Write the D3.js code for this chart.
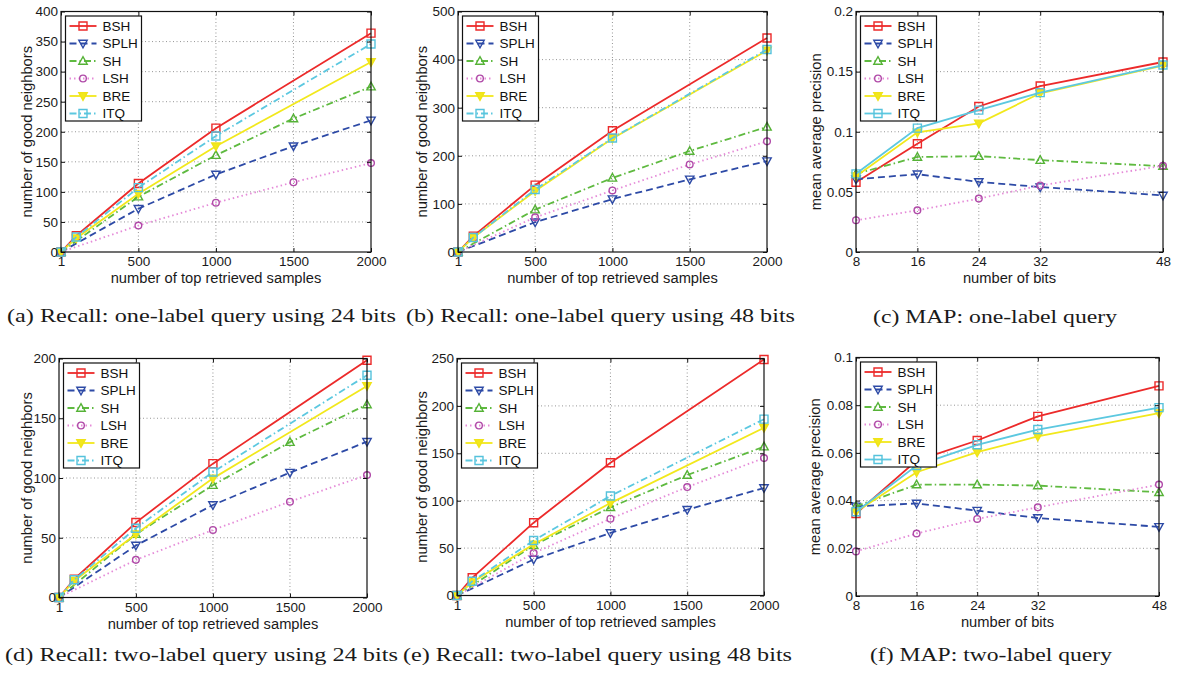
<!DOCTYPE html>
<html><head><meta charset="utf-8">
<script src="https://cdn.jsdelivr.net/npm/d3@7/dist/d3.min.js"></script>
<style>
html,body{margin:0;padding:0;background:#fff;}
svg{display:block;}
</style></head>
<body>
<svg id="fig" width="1177" height="678"></svg>
<script>
// ---------- data ----------
const seriesNames = ["BSH", "SPLH", "SH", "LSH", "BRE", "ITQ"];
const xDense = [1, 100, 500, 1000, 2000];       // BSH, BRE, ITQ points (recall)
const xSparse = [1, 500, 1000, 1500, 2000];     // SPLH, SH, LSH points (recall)
const bits = [8, 16, 24, 32, 48];
const sampleTicks = [1, 500, 1000, 1500, 2000];

// (a) one-label, 24 bits
const a_BSH = [0, 27, 114, 206, 364];
const a_SPLH = [0, 72, 129, 176, 219];
const a_SH = [0, 92, 161, 222, 275];
const a_LSH = [0, 44, 82, 116, 148];
const a_BRE = [0, 23, 97, 176, 316];
const a_ITQ = [0, 25, 107, 193, 346];
const a_yTicks = [0, 50, 100, 150, 200, 250, 300, 350, 400];

// (b) one-label, 48 bits
const b_BSH = [0, 33, 139, 252, 445];
const b_SPLH = [0, 62, 110, 151, 189];
const b_SH = [0, 88, 154, 210, 260];
const b_LSH = [0, 72, 128, 182, 230];
const b_BRE = [0, 30, 127, 236, 419];
const b_ITQ = [0, 30, 130, 237, 421];
const b_yTicks = [0, 100, 200, 300, 400, 500];

// (c) MAP one-label
const c_BSH = [0.058, 0.090, 0.121, 0.138, 0.158];
const c_SPLH = [0.0605, 0.0647, 0.0583, 0.054, 0.047];
const c_SH = [0.065, 0.079, 0.0797, 0.0764, 0.0714];
const c_LSH = [0.0264, 0.0347, 0.0444, 0.0553, 0.0717];
const c_BRE = [0.063, 0.0995, 0.107, 0.132, 0.155];
const c_ITQ = [0.065, 0.103, 0.118, 0.1325, 0.1555];
const c_yTicks = [0, 0.05, 0.1, 0.15, 0.2];

// (d) two-label, 24 bits
const d_BSH = [0, 15.3, 62.7, 112, 198.5];
const d_SPLH = [0, 43.5, 77.4, 104.5, 130.4];
const d_SH = [0, 53, 94, 130, 161.5];
const d_LSH = [0, 31.5, 56.5, 80.2, 102.5];
const d_BRE = [0, 14, 53, 99.7, 177];
const d_ITQ = [0, 14.8, 58, 105, 186];
const d_yTicks = [0, 50, 100, 150, 200];

// (e) two-label, 48 bits
const e_BSH = [0, 18.7, 76.8, 140, 249];
const e_SPLH = [0, 38, 66, 90.5, 113.4];
const e_SH = [0, 53, 93, 127, 157];
const e_LSH = [0, 44.7, 81, 114.4, 145];
const e_BRE = [0, 14, 54, 97.5, 177];
const e_ITQ = [0, 15, 58, 105, 186];
const e_yTicks = [0, 50, 100, 150, 200, 250];

// (f) MAP two-label
const f_BSH = [0.0346, 0.0568, 0.0652, 0.0753, 0.0881];
const f_SPLH = [0.0376, 0.0388, 0.0358, 0.0327, 0.029];
const f_SH = [0.0376, 0.0467, 0.0467, 0.0463, 0.0435];
const f_LSH = [0.0187, 0.0262, 0.0323, 0.0372, 0.0467];
const f_BRE = [0.0353, 0.0519, 0.0603, 0.0669, 0.0767];
const f_ITQ = [0.0353, 0.0547, 0.0634, 0.0698, 0.079];
const f_yTicks = [0, 0.02, 0.04, 0.06, 0.08, 0.1];

const captions = [
  "(a) Recall: one-label query using 24 bits",
  "(b) Recall: one-label query using 48 bits",
  "(c) MAP: one-label query",
  "(d) Recall: two-label query using 24 bits",
  "(e) Recall: two-label query using 48 bits",
  "(f) MAP: two-label query"
];

// ---------- styles ----------
const styles = {
  BSH:  {color: "#ec2a2a", markerColor: "#ec2a2a", dash: null, marker: "square", fill: "none"},
  SPLH: {color: "#2d4aa6", markerColor: "#2d4aa6", dash: "7,4", marker: "down", fill: "none"},
  SH:   {color: "#5fba40", markerColor: "#55b236", dash: "7,3,1.5,3", marker: "up", fill: "none"},
  LSH:  {color: "#e58ad8", markerColor: "#b04aa8", dash: "1.5,3", marker: "circle", fill: "none"},
  BRE:  {color: "#f2e81c", markerColor: "#f0e318", dash: null, marker: "down", fill: "#f2e81c"},
  ITQ:  {color: "#5cc8e0", markerColor: "#55c2dc", dash: "7,3,1.5,3", marker: "square", fill: "none"}
};

const panels = [
  {L: 61, R: 371, T: 11.5, B: 252, yMax: 400, yTicks: a_yTicks, xTicks: sampleTicks, xDom: [1, 2000],
   xTitle: "number of top retrieved samples", yTitle: "number of good neighbors", yTitleOff: 34,
   kind: "recall", data: {BSH: a_BSH, SPLH: a_SPLH, SH: a_SH, LSH: a_LSH, BRE: a_BRE, ITQ: a_ITQ},
   cap: {x: 7, w: 389, y: 322}},
  {L: 458, R: 767, T: 11.5, B: 252, yMax: 500, yTicks: b_yTicks, xTicks: sampleTicks, xDom: [1, 2000],
   xTitle: "number of top retrieved samples", yTitle: "number of good neighbors", yTitleOff: 36,
   kind: "recall", data: {BSH: b_BSH, SPLH: b_SPLH, SH: b_SH, LSH: b_LSH, BRE: b_BRE, ITQ: b_ITQ},
   cap: {x: 406, w: 389, y: 322}},
  {L: 856, R: 1163, T: 11.5, B: 252, yMax: 0.2, yTicks: c_yTicks, xTicks: bits, xDom: [8, 48],
   xTitle: "number of bits", yTitle: "mean average precision", yTitleOff: 40,
   kind: "map", data: {BSH: c_BSH, SPLH: c_SPLH, SH: c_SH, LSH: c_LSH, BRE: c_BRE, ITQ: c_ITQ},
   cap: {x: 873, w: 244, y: 323}},
  {L: 59, R: 367, T: 358.5, B: 597.5, yMax: 200, yTicks: d_yTicks, xTicks: sampleTicks, xDom: [1, 2000],
   xTitle: "number of top retrieved samples", yTitle: "number of good neighbors", yTitleOff: 32,
   kind: "recall", data: {BSH: d_BSH, SPLH: d_SPLH, SH: d_SH, LSH: d_LSH, BRE: d_BRE, ITQ: d_ITQ},
   cap: {x: 5, w: 393, y: 661}},
  {L: 457, R: 764, T: 358.5, B: 595.5, yMax: 250, yTicks: e_yTicks, xTicks: sampleTicks, xDom: [1, 2000],
   xTitle: "number of top retrieved samples", yTitle: "number of good neighbors", yTitleOff: 35,
   kind: "recall", data: {BSH: e_BSH, SPLH: e_SPLH, SH: e_SH, LSH: e_LSH, BRE: e_BRE, ITQ: e_ITQ},
   cap: {x: 403, w: 389, y: 661}},
  {L: 856, R: 1159, T: 357.5, B: 596, yMax: 0.1, yTicks: f_yTicks, xTicks: bits, xDom: [8, 48],
   xTitle: "number of bits", yTitle: "mean average precision", yTitleOff: 41,
   kind: "map", data: {BSH: f_BSH, SPLH: f_SPLH, SH: f_SH, LSH: f_LSH, BRE: f_BRE, ITQ: f_ITQ},
   cap: {x: 870, w: 242, y: 661}}
];

const svg = d3.select("#fig");
const sans = "'Liberation Sans', Arial, Helvetica, sans-serif";
const serif = "'Liberation Serif', 'DejaVu Serif', serif";
const LW = 1.8;

function markerPath(type, size) {
  const s = size / 2;
  if (type === "square") return `M${-s},${-s}H${s}V${s}H${-s}Z`;
  if (type === "down") return `M${-s * 1.05},${-s * 0.8}L${s * 1.05},${-s * 0.8}L0,${s * 1.1}Z`;
  if (type === "up") return `M${-s * 1.05},${s * 0.8}L${s * 1.05},${s * 0.8}L0,${-s * 1.1}Z`;
  return d3.symbol(d3.symbolCircle, size * size * 0.62)();
}

panels.forEach((p, pi) => {
  const g = svg.append("g");
  const x = d3.scaleLinear().domain(p.xDom).range([p.L, p.R]);
  const y = d3.scaleLinear().domain([0, p.yMax]).range([p.B, p.T]);
  const fmt = v => (v === 0 ? "0" : d3.format("~g")(v));

  // grid
  const grid = g.append("g").attr("stroke", "#8a8a8a").attr("stroke-width", 0.9).attr("stroke-dasharray", "1,2.5");
  p.xTicks.filter(v => v !== p.xDom[0] && v !== p.xDom[1]).forEach(v => {
    grid.append("line").attr("x1", x(v)).attr("x2", x(v)).attr("y1", p.T).attr("y2", p.B);
  });
  p.yTicks.filter(v => v !== 0 && v !== p.yMax).forEach(v => {
    grid.append("line").attr("x1", p.L).attr("x2", p.R).attr("y1", y(v)).attr("y2", y(v));
  });

  // series
  seriesNames.forEach(name => {
    const st = styles[name];
    const vals = p.data[name];
    let xs;
    if (p.kind === "map") xs = bits;
    else xs = (name === "BSH" || name === "BRE" || name === "ITQ") ? xDense : xSparse;
    const pts = xs.map((xv, i) => [xv, vals[i]]);
    let dash = st.dash;
    if (p.kind === "map" && name === "ITQ") dash = null;
    const line = d3.line().x(d => x(d[0])).y(d => y(d[1]));
    g.append("path").attr("d", line(pts)).attr("fill", "none")
      .attr("stroke", st.color).attr("stroke-width", LW)
      .attr("stroke-dasharray", dash);
    g.selectAll(null).data(pts).enter().append("path")
      .attr("d", markerPath(st.marker, st.marker === "circle" ? 7.5 : 8))
      .attr("transform", d => `translate(${x(d[0])},${y(d[1])})`)
      .attr("fill", st.fill).attr("stroke", st.markerColor).attr("stroke-width", 1.4);
  });

  // axes
  const ax = g.append("g").attr("font-family", sans);
  const bottom = ax.append("g").attr("transform", `translate(0,${p.B})`)
    .call(d3.axisBottom(x).tickValues(p.xTicks).tickSize(-4).tickPadding(4.5).tickFormat(fmt));
  const left = ax.append("g").attr("transform", `translate(${p.L},0)`)
    .call(d3.axisLeft(y).tickValues(p.yTicks).tickSize(-4).tickPadding(3).tickFormat(fmt));
  const top = ax.append("g").attr("transform", `translate(0,${p.T})`)
    .call(d3.axisTop(x).tickValues(p.xTicks).tickSize(-4).tickFormat(""));
  const right = ax.append("g").attr("transform", `translate(${p.R},0)`)
    .call(d3.axisRight(y).tickValues(p.yTicks).tickSize(-4).tickFormat(""));
  [bottom, left, top, right].forEach(a => {
    a.select(".domain").remove();
    a.selectAll("line").attr("stroke", "#111").attr("stroke-width", 1);
    a.selectAll("text").attr("font-size", 13.5).attr("fill", "#1a1a1a").attr("font-family", sans);
  });

  // frame
  g.append("rect").attr("x", p.L).attr("y", p.T).attr("width", p.R - p.L).attr("height", p.B - p.T)
    .attr("fill", "none").attr("stroke", "#111").attr("stroke-width", 1.2);

  // axis titles
  g.append("text").attr("x", (p.L + p.R) / 2).attr("y", p.B + 26).attr("text-anchor", "middle")
    .attr("dominant-baseline", "central").attr("font-family", sans).attr("font-size", 14.7)
    .attr("fill", "#1a1a1a").text(p.xTitle);
  g.append("text").attr("transform", `translate(${p.L - p.yTitleOff},${(p.T + p.B) / 2}) rotate(-90)`)
    .attr("text-anchor", "middle").attr("dominant-baseline", "central").attr("font-family", sans)
    .attr("font-size", 14.7).attr("fill", "#1a1a1a").text(p.yTitle);

  // legend
  const lx = p.L + 4.5, ly = p.T + 4.5, lw = 76, lh = 105;
  const lg = g.append("g");
  lg.append("rect").attr("x", lx).attr("y", ly).attr("width", lw).attr("height", lh)
    .attr("fill", "#fff").attr("stroke", "#111").attr("stroke-width", 1.2);
  seriesNames.forEach((name, i) => {
    const st = styles[name];
    const cy = ly + 10 + i * 17.5;
    let dash = st.dash;
    if (p.kind === "map" && name === "ITQ") dash = null;
    lg.append("line").attr("x1", lx + 4).attr("x2", lx + 31).attr("y1", cy).attr("y2", cy)
      .attr("stroke", st.color).attr("stroke-width", LW).attr("stroke-dasharray", dash);
    lg.append("path").attr("d", markerPath(st.marker, st.marker === "circle" ? 7.5 : 8))
      .attr("transform", `translate(${lx + 17.5},${cy})`)
      .attr("fill", st.fill).attr("stroke", st.markerColor).attr("stroke-width", 1.4);
    lg.append("text").attr("x", lx + 37).attr("y", cy).attr("dominant-baseline", "central")
      .attr("font-family", sans).attr("font-size", 13.5).attr("fill", "#111").text(name);
  });

  // caption
  svg.append("text").attr("x", p.cap.x).attr("y", p.cap.y)
    .attr("font-family", serif).attr("font-size", 19.5).attr("fill", "#1a1a1a")
    .attr("textLength", p.cap.w).attr("lengthAdjust", "spacingAndGlyphs")
    .text(captions[pi]);
});
</script>
</body></html>
